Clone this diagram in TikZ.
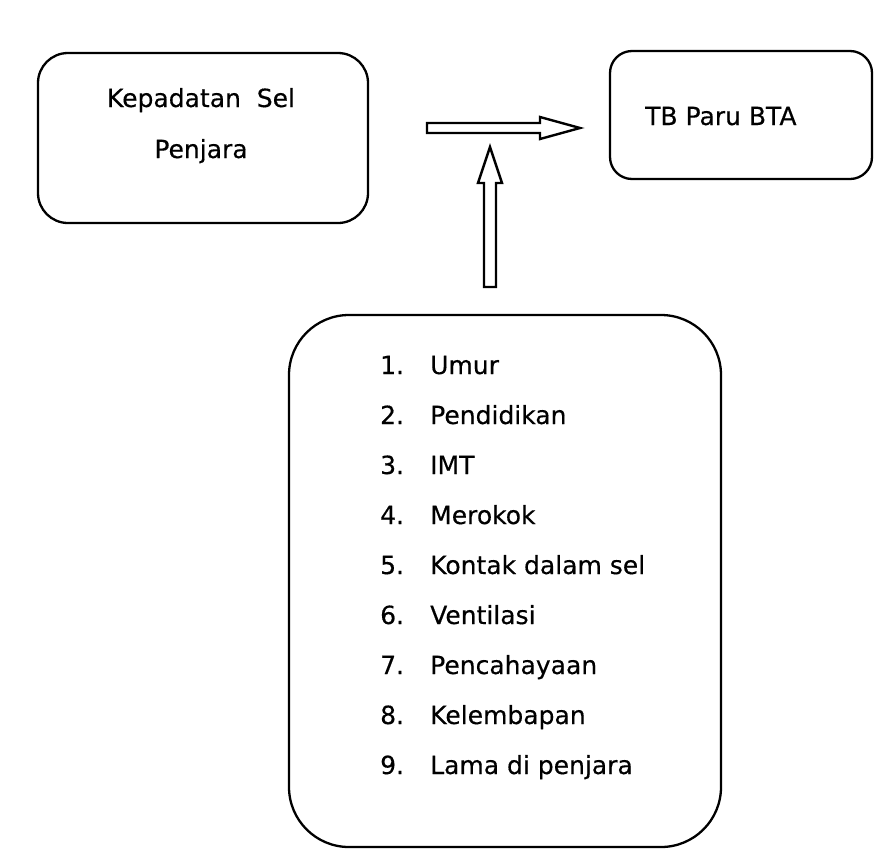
\documentclass[tikz,border=0pt]{standalone}
\usepackage{fontspec}
\setmainfont{DejaVu Sans}[FakeBold=0.4]
\begin{document}
\begin{tikzpicture}[x=1pt,y=-1pt,
  box/.style={draw=black, line width=2.3pt, inner sep=0pt},
  txt/.style={inner sep=0pt, font=\fontsize{25}{30}\selectfont},
  hollowarrow/.style={draw=black, line width=2.4pt, fill=white, line join=miter}]
  \useasboundingbox (0,0) rectangle (874,849);

  % three boxes
  \node[box, rounded corners=30pt, minimum width=330pt, minimum height=170pt] (cause) at (203,138) {};
  \node[box, rounded corners=22pt, minimum width=262pt, minimum height=128pt] (effect) at (741,115) {};
  \node[box, rounded corners=60pt, minimum width=432pt, minimum height=532pt] (factors) at (505,581) {};

  % box labels
  \node[txt, anchor=base] (c1) at (201,107) {Kepadatan\ \ Sel};
  \node[txt, anchor=base] (c2) at (201,158) {Penjara};
  \node[txt, anchor=base west] (e1) at (645,125) {TB Paru BTA};

  % numbered list of factors
  \foreach \i/\t in {1/Umur,2/Pendidikan,3/IMT,4/Merokok,5/Kontak dalam sel,
                     6/Ventilasi,7/Pencahayaan,8/Kelembapan,9/Lama di penjara}{
    \node[txt, anchor=base west] (n\i) at (380,{374+50*(\i-1)}) {\i.};
    \node[txt, anchor=base west] (f\i) at (430,{374+50*(\i-1)}) {\t};
  }

  % hollow block arrows
  \coordinate (htail) at (427,128);
  \coordinate (vtail) at (490,287);
  \draw[hollowarrow] (htail) ++(0,-5) -- ++(113,0) -- ++(0,-6) -- ++(40,11)
        -- ++(-40,11) -- ++(0,-6) -- ++(-113,0) -- cycle;
  \draw[hollowarrow] (vtail) ++(-6,0) -- ++(0,-104) -- ++(-6,0) -- ++(12,-36)
        -- ++(12,36) -- ++(-6,0) -- ++(0,104) -- cycle;
\end{tikzpicture}
\end{document}
